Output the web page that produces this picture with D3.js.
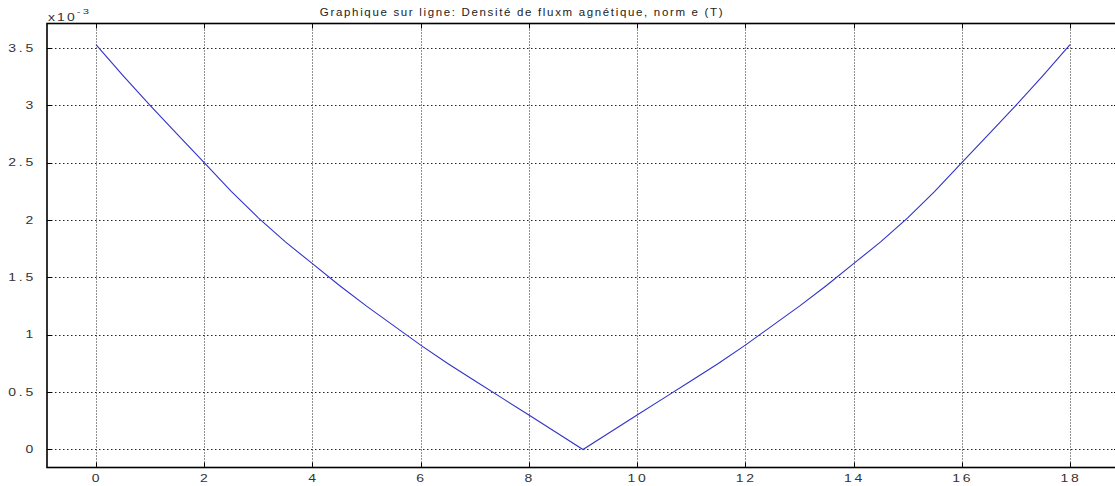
<!DOCTYPE html>
<html><head><meta charset="utf-8">
<script src="https://cdn.jsdelivr.net/npm/d3@7"></script>
<style>body{margin:0;background:#fff}svg{display:block}text{font-family:"Liberation Sans",Arial,sans-serif}</style>
</head><body>
<script>
const xValues = [0,0.5,1,1.5,2,2.5,3,3.5,4,4.5,5,5.5,6,6.5,7,7.5,8,8.5,9,9.5,10,10.5,11,11.5,12,12.5,13,13.5,14,14.5,15,15.5,16,16.5,17,17.5,18];
const bValues = [3.53,3.26,3.0,2.75,2.5,2.25,2.02,1.81,1.62,1.43,1.25,1.08,0.91,0.75,0.6,0.45,0.3,0.15,0.0,0.15,0.3,0.45,0.6,0.75,0.91,1.08,1.25,1.43,1.62,1.81,2.02,2.25,2.5,2.75,3.0,3.26,3.53];
const xTicks = [0,2,4,6,8,10,12,14,16,18];
const yTicks = [0,0.5,1,1.5,2,2.5,3,3.5];
const yTickLabels = ["0","0.5","1","1.5","2","2.5","3","3.5"];
const title = "Graphique sur ligne: Densité de fluxm agnétique, norm e (T)";

const W = 1115, H = 486;
const L = 47, R = 1119, T = 23.5, B = 467.5;
const svg = d3.select("body").append("svg").attr("width", W).attr("height", H);
const x = d3.scaleLinear().domain([-0.905, 18.905]).range([L, R]);
const y = d3.scaleLinear().domain([-0.157, 3.714]).range([B, T]);

// grid
const g = svg.append("g");
g.selectAll(".vg").data(xTicks).join("line")
  .attr("x1", d => Math.round(x(d)) + 0.5).attr("x2", d => Math.round(x(d)) + 0.5)
  .attr("y1", T).attr("y2", B)
  .attr("stroke", "#222").attr("stroke-width", 1).attr("stroke-dasharray", "1,2");
g.selectAll(".hg").data(yTicks).join("line")
  .attr("y1", d => Math.round(y(d)) + 0.5).attr("y2", d => Math.round(y(d)) + 0.5)
  .attr("x1", L).attr("x2", R)
  .attr("stroke", "#222").attr("stroke-width", 1).attr("stroke-dasharray", "1.5,2.5");

// inward ticks
const tk = 5;
g.selectAll(".tb").data(xTicks).join("line")
  .attr("x1", d => Math.round(x(d)) + 0.5).attr("x2", d => Math.round(x(d)) + 0.5)
  .attr("y1", B).attr("y2", B - tk).attr("stroke", "#000");
g.selectAll(".tt").data(xTicks).join("line")
  .attr("x1", d => Math.round(x(d)) + 0.5).attr("x2", d => Math.round(x(d)) + 0.5)
  .attr("y1", T).attr("y2", T + tk).attr("stroke", "#000");
g.selectAll(".tl").data(yTicks).join("line")
  .attr("y1", d => Math.round(y(d)) + 0.5).attr("y2", d => Math.round(y(d)) + 0.5)
  .attr("x1", L).attr("x2", L + tk).attr("stroke", "#000");
g.selectAll(".tr").data(yTicks).join("line")
  .attr("y1", d => Math.round(y(d)) + 0.5).attr("y2", d => Math.round(y(d)) + 0.5)
  .attr("x1", R).attr("x2", R - tk).attr("stroke", "#000");

// line
const line = d3.line().x((d, i) => x(xValues[i])).y(d => y(d));
svg.append("path").datum(bValues).attr("d", line)
  .attr("fill", "none").attr("stroke", "#3232c8").attr("stroke-width", 1.1);

// frame
svg.append("rect").attr("x", L).attr("y", T).attr("width", R - L).attr("height", B - T)
  .attr("fill", "none").attr("stroke", "#000").attr("stroke-width", 1.6);

const SX = 1.4;
// tick labels (horizontally stretched glyphs as in the reference)
svg.selectAll(".xl").data(xTicks).join("text")
  .attr("transform", d => `translate(${x(d) + 1},482) scale(${SX},1)`)
  .attr("text-anchor", "middle")
  .attr("font-size", 10).attr("letter-spacing", "2px").attr("fill", "#333").text(d => d);
svg.selectAll(".yl").data(yTicks).join("text")
  .attr("transform", d => `translate(36,${y(d) + 3.5}) scale(${SX},1)`)
  .attr("text-anchor", "end")
  .attr("font-size", 10).attr("letter-spacing", "2px").attr("fill", "#333").text((d, i) => yTickLabels[i]);

// exponent
const ex = svg.append("text").attr("transform", `translate(48,21) scale(${SX},1)`)
  .attr("font-size", 10).attr("fill", "#333").attr("letter-spacing", "1.5px");
ex.append("tspan").text("x10");
ex.append("tspan").attr("dy", -7).attr("font-size", 8).text("-3");

// title
svg.append("text").attr("transform", "translate(522,16) scale(1.15,1)").attr("text-anchor", "middle")
  .attr("font-size", 10).attr("letter-spacing", "1.45px").attr("fill", "#222").text(title);
</script>
</body></html>
